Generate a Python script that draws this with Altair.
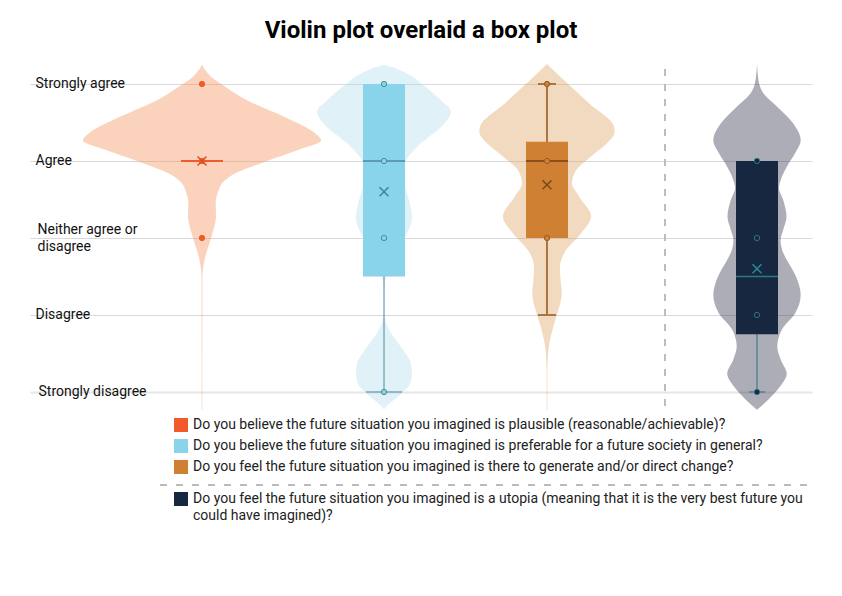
import json
import textwrap
import altair as alt
import pandas as pd

# ---------------- data ----------------
title_text = "Violin plot overlaid a box plot"
likert = ["Strongly disagree", "Disagree", "Neither agree or disagree", "Agree", "Strongly agree"]
questions = [
    "Do you believe the future situation you imagined is plausible (reasonable/achievable)?",
    "Do you believe the future situation you imagined is preferable for a future society in general?",
    "Do you feel the future situation you imagined is there to generate and/or direct change?",
    "Do you feel the future situation you imagined is a utopia (meaning that it is the very best future you could have imagined)?",
]

# box-plot statistics (1 = Strongly disagree ... 5 = Strongly agree)
q1 = [4, 2.5, 3, 1.75]
median = [4, 4, 4, 2.5]
q3 = [4, 5, 4.25, 4]
whisker_lo = [4, 1, 2, 1]
whisker_hi = [4, 5, 5, 4]
means = [4, 3.6, 3.69, 2.6]
points = [[5, 4, 3], [5, 4, 3, 1], [5, 4, 3], [4, 3, 2, 1]]

# violin density profiles (relative density at response level)
v1_levels = [5.26, 5.20, 5.14, 5.07, 5.01, 4.79, 4.58, 4.36, 4.27, 4.14, 4.00, 3.80, 3.71, 3.62, 3.45, 3.28, 3.10, 2.93, 2.76, 2.50, 0.77]
v1_density = [0, 0.017, 0.048, 0.092, 0.15, 0.375, 0.675, 0.942, 0.992, 0.792, 0.542, 0.233, 0.167, 0.138, 0.114, 0.117, 0.094, 0.061, 0.028, 0.004, 0.003]

v2_levels = [5.25, 5.22, 5.18, 5.10, 5.01, 4.79, 4.64, 4.44, 4.23, 4.05, 3.88, 3.71, 3.49, 3.26, 3.01, 2.84, 2.64, 2.45, 2.30, 2.03, 1.76, 1.55, 1.37, 1.24, 1.11, 0.94, 0.79, 0.77]
v2_density = [0, 0.067, 0.133, 0.233, 0.308, 0.475, 0.558, 0.475, 0.308, 0.2, 0.15, 0.167, 0.208, 0.233, 0.175, 0.108, 0.042, 0.008, 0, 0, 0.061, 0.158, 0.225, 0.233, 0.217, 0.117, 0.008, 0]

v3_levels = [5.26, 4.99, 4.75, 4.45, 4.38, 4.23, 4.06, 3.88, 3.71, 3.54, 3.28, 3.06, 2.84, 2.63, 2.45, 2.28, 2.02, 1.85, 1.63, 1.42, 1.20, 0.77]
v3_density = [0, 0.183, 0.35, 0.558, 0.564, 0.5, 0.367, 0.242, 0.208, 0.267, 0.367, 0.283, 0.158, 0.108, 0.113, 0.123, 0.086, 0.053, 0.019, 0.006, 0.003, 0.003]

v4_levels = [5.26, 5.10, 5.01, 4.88, 4.71, 4.49, 4.27, 4.10, 3.93, 3.80, 3.65, 3.50, 3.28, 3.10, 2.97, 2.85, 2.71, 2.50, 2.26, 2.02, 1.81, 1.59, 1.42, 1.24, 1.07, 0.90, 0.77]
v4_density = [0, 0.008, 0.017, 0.053, 0.164, 0.3, 0.364, 0.317, 0.25, 0.208, 0.183, 0.217, 0.246, 0.217, 0.196, 0.208, 0.25, 0.325, 0.364, 0.317, 0.206, 0.169, 0.198, 0.248, 0.192, 0.094, 0]

violin_levels = [v1_levels, v2_levels, v3_levels, v4_levels]
violin_density = [v1_density, v2_density, v3_density, v4_density]

# ---------------- styles / layout ----------------
colors = ["#f15a29", "#89d4ea", "#d08032", "#17273f"]
violin_colors = ["#f5915a", "#b1dced", "#dea261", "#32324e"]
line_colors = ["#f15a29", "#4f8a9c", "#a8773f", "#2a7380"]
median_colors = ["#f15a29", "#4f8a9c", "#8a4f1a", "#2a7a88"]
mean_colors = ["#e0501f", "#4f7f8f", "#7a4a1e", "#2a8a95"]
point_strokes = ["#f15a29", "#4f8a9c", "#9a5d22", "#2a7380"]
median_widths = [2, 1.5, 2, 1.5]
whisker_widths = [1, 1, 2, 1]
cap_half = [0, 18, 9, 8]

centers = [172, 354, 517, 727]   # slot positions on the x scale
BOX_HALF = 21
VIOLIN_SCALE = 120
PLOT_W, PLOT_H = 782, 347
FONT = "Roboto"

xscale = alt.Scale(domain=[0, PLOT_W], nice=False, zero=False)
yscale = alt.Scale(domain=[0.7662, 5.2727], nice=False, zero=False)

label_lines = [textwrap.wrap(l, 17) for l in likert]
label_expr = "[" + ",".join(json.dumps(x) for x in label_lines) + "][round(datum.value) - 1]"

yaxis = alt.Axis(
    values=[1, 2, 3, 4, 5], title=None, domain=False, ticks=False, tickSize=0,
    labelAlign="left", labelBaseline="middle", labelExpr=label_expr,
    labelPadding={"condition": [{"test": "datum.value === 1", "value": -8},
                                {"test": "datum.value === 3", "value": -7}], "value": -5},
    labelOffset={"condition": {"test": "datum.value === 3", "value": -8}, "value": 0},
    labelFont=FONT, labelFontSize=14, labelColor="#111111", labelLineHeight=17,
    labelOverlap=False, labelFlush=False, labelBound=False,
    grid=True,
    gridColor={"condition": {"test": "datum.value === 1", "value": "#e6e6e6"}, "value": "#d9d9d9"},
    gridWidth={"condition": {"test": "datum.value === 1", "value": 2}, "value": 1},
)


def Y(field):
    return alt.Y(field, type="quantitative", scale=yscale, axis=yaxis)


def X(field):
    return alt.X(field, type="quantitative", scale=xscale, axis=None)


# ---------------- tables ----------------
vrows = []
for i, q in enumerate(questions):
    for lv, d in zip(violin_levels[i], violin_density[i]):
        vrows.append({"series": q, "level": lv, "density": d, "center": centers[i],
                      "vcolor": violin_colors[i]})
violin_df = pd.DataFrame(vrows).sort_values(["series", "level"])

box_df = pd.DataFrame({
    "series": questions, "center": centers, "q1": q1, "q3": q3, "median": median,
    "lo": whisker_lo, "hi": whisker_hi, "mean": means,
    "color": colors, "line_color": line_colors, "median_color": median_colors,
    "mean_color": mean_colors, "median_width": median_widths, "whisker_width": whisker_widths,
})
box_df["bl"] = box_df["center"] - BOX_HALF
box_df["br"] = box_df["center"] + BOX_HALF

cap_rows = []
for i in range(4):
    if whisker_lo[i] < q1[i]:
        cap_rows.append({"v": whisker_lo[i], "cl": centers[i] - cap_half[i], "cr": centers[i] + cap_half[i],
                         "c": line_colors[i], "w": whisker_widths[i]})
    if whisker_hi[i] > q3[i]:
        cap_rows.append({"v": whisker_hi[i], "cl": centers[i] - cap_half[i], "cr": centers[i] + cap_half[i],
                         "c": line_colors[i], "w": whisker_widths[i]})
cap_df = pd.DataFrame(cap_rows)

point_rows = []
for i, vals in enumerate(points):
    for v in vals:
        point_rows.append({"center": centers[i], "value": v, "fill": colors[i], "stroke": point_strokes[i]})
point_df = pd.DataFrame(point_rows)

# ---------------- layers ----------------
violins = alt.Chart(violin_df).transform_calculate(
    xl=f"datum.center - datum.density * {VIOLIN_SCALE}",
    xr=f"datum.center + datum.density * {VIOLIN_SCALE}",
).mark_area(orient="horizontal", interpolate="monotone", opacity=0.4).encode(
    y=Y("level"), x=X("xl"), x2="xr:Q",
    fill=alt.Fill("vcolor:N", scale=None), detail="series:N",
)

divider = alt.Chart(pd.DataFrame({"a": [0]})).mark_rule(
    strokeDash=[7, 8], color="#bdbdbd", strokeWidth=2
).encode(x=alt.value(635), y=alt.value(6), y2=alt.value(PLOT_H))

whiskers = alt.Chart(box_df).transform_filter("datum.lo < datum.hi").mark_rule().encode(
    x=X("center"), y=Y("lo"), y2="hi:Q",
    stroke=alt.Stroke("line_color:N", scale=None),
    strokeWidth=alt.StrokeWidth("whisker_width:Q", scale=None),
)

caps = alt.Chart(cap_df).mark_rule().encode(
    x=X("cl"), x2="cr:Q", y=Y("v"),
    stroke=alt.Stroke("c:N", scale=None),
    strokeWidth=alt.StrokeWidth("w:Q", scale=None),
)

boxes = alt.Chart(box_df).transform_filter("datum.q1 < datum.q3").mark_rect(opacity=1).encode(
    x=X("bl"), x2="br:Q", y=Y("q1"), y2="q3:Q",
    fill=alt.Fill("color:N", scale=None),
)

medians = alt.Chart(box_df).mark_rule().encode(
    x=X("bl"), x2="br:Q", y=Y("median"),
    stroke=alt.Stroke("median_color:N", scale=None),
    strokeWidth=alt.StrokeWidth("median_width:Q", scale=None),
)

dots = alt.Chart(point_df).mark_circle(size=28, strokeWidth=1, opacity=1).encode(
    x=X("center"), y=Y("value"),
    fill=alt.Fill("fill:N", scale=None), stroke=alt.Stroke("stroke:N", scale=None),
)

mean_marks = alt.Chart(box_df).mark_point(
    shape="M-1,-1L1,1M-1,1L1,-1", size=80, strokeWidth=1.5, filled=False, opacity=1
).encode(
    x=X("center"), y=Y("mean"), stroke=alt.Stroke("mean_color:N", scale=None),
)

# ---------------- legend ----------------
legend_layers = []
row_y = [362, 383, 404, 436]
LINE_H = 17
for i, q in enumerate(questions):
    legend_layers.append(
        alt.Chart(pd.DataFrame({"a": [0]})).mark_square(size=196, opacity=1, color=colors[i]).encode(
            x=alt.value(151), y=alt.value(row_y[i])
        )
    )
    for j, line in enumerate(textwrap.wrap(q, 102)):
        legend_layers.append(
            alt.Chart(pd.DataFrame({"label": [line]})).mark_text(
                align="left", baseline="middle", font=FONT, fontSize=14, color="#222222"
            ).encode(x=alt.value(163), y=alt.value(row_y[i] + j * LINE_H), text="label:N")
        )

separator = alt.Chart(pd.DataFrame({"a": [0]})).mark_rule(
    strokeDash=[7, 9], color="#bbbbbb", strokeWidth=2
).encode(x=alt.value(130), x2=alt.value(777), y=alt.value(422))

chart = alt.layer(
    violins, divider, whiskers, caps, boxes, medians, dots, mean_marks, separator, *legend_layers
).properties(
    width=PLOT_W, height=PLOT_H, background="white",
    title=alt.TitleParams(title_text, font=FONT, fontSize=24, fontWeight="bold", color="#000000",
                          anchor="middle", offset=20),
    autosize=alt.AutoSizeParams(type="none"),
    padding={"left": 22, "top": 55, "right": 22, "bottom": 150},
).configure_view(stroke=None)

chart.save("out.html", embed_options={"renderer": "svg", "actions": False})
